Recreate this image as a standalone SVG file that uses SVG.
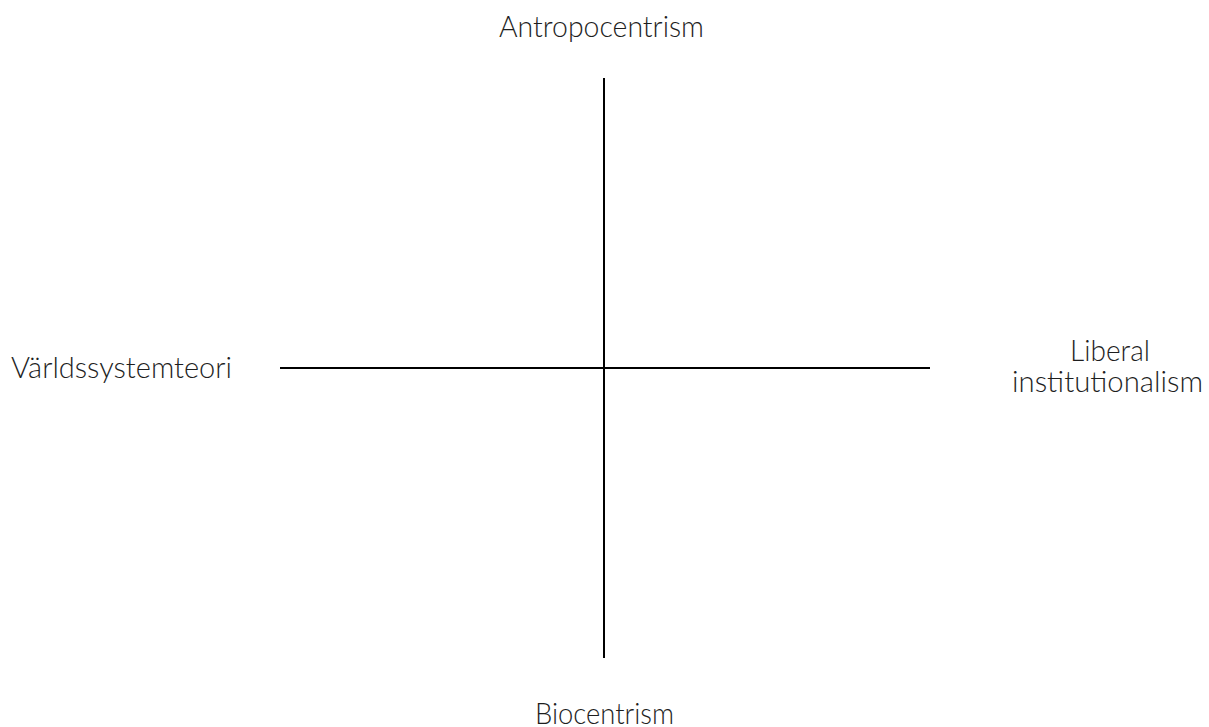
<svg xmlns="http://www.w3.org/2000/svg" width="1209" height="727" viewBox="0 0 1209 727">
<style>
.lbl{font-family:Lato,"Open Sans","Liberation Sans",sans-serif;font-weight:300;font-size:29px;fill:#1e1e1e;}
.ax{stroke:#000;stroke-width:2;fill:none;}
</style>
<rect width="1209" height="727" fill="#fff"/>
<g id="connectors">
<line class="ax" x1="604" y1="78" x2="604" y2="658"/>
<line class="ax" x1="280" y1="368" x2="930" y2="368"/>
</g>
<g id="top"><text class="lbl" x="499" y="37" textLength="205" lengthAdjust="spacingAndGlyphs">Antropocentrism</text></g>
<g id="left"><text class="lbl" x="11" y="378" textLength="221" lengthAdjust="spacingAndGlyphs">Världssystemteori</text></g>
<g id="right"><text class="lbl" x="1070" y="361" textLength="80" lengthAdjust="spacingAndGlyphs">Liberal</text><text class="lbl" x="1012" y="392" textLength="191" lengthAdjust="spacingAndGlyphs">institutionalism</text></g>
<g id="bottom"><text class="lbl" x="535" y="724" textLength="139" lengthAdjust="spacingAndGlyphs">Biocentrism</text></g>
</svg>
